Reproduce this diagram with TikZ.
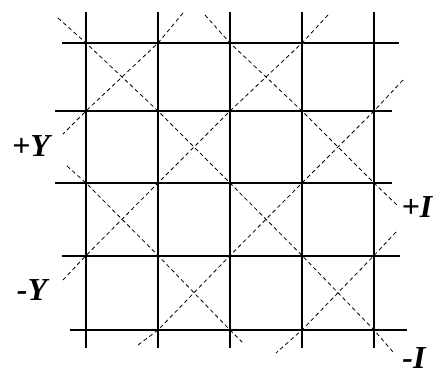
\documentclass[tikz,border=0pt]{standalone}
\usepackage{fontspec}
\setmainfont{Liberation Serif}
\begin{document}
\begin{tikzpicture}[x=1pt,y=-1pt,
  gridline/.style={line width=2pt,black},
  diag/.style={line width=0.8pt,black,dash pattern=on 4pt off 3pt},
  lbl/.style={font=\fontsize{32}{34}\selectfont\bfseries\itshape,inner sep=0pt}]
\useasboundingbox (0,0) rectangle (433,372);
% grid intersections
\foreach \i/\x in {0/86,1/158,2/230,3/302,4/374}{
  \foreach \j/\y in {0/43,1/111,2/183,3/255.5,4/330}{
    \coordinate (p-\i-\j) at (\x,\y);
  }
}
% vertical lines
\foreach \i/\x in {0/86,1/158,2/230,3/302,4/374}{
  \coordinate (vt-\i) at (\x,12);
  \coordinate (vb-\i) at (\x,348);
  \draw[gridline] (vt-\i) -- (vb-\i);
}
% horizontal lines
\foreach \j/\y/\l/\r in {0/43/62/399,1/111/55/392,2/183/55/392,3/255.5/62/400,4/330/70/407}{
  \coordinate (hl-\j) at (\l,\y);
  \coordinate (hr-\j) at (\r,\y);
  \draw[gridline] (hl-\j) -- (hr-\j);
}
% free ends of dashed lines
\coordinate (a0) at (58,18);   \coordinate (a1) at (393,352);
\coordinate (b0) at (205,15);  \coordinate (b1) at (398,206);
\coordinate (c0) at (67,166);  \coordinate (c1) at (242,342);
\coordinate (d0) at (183,13);  \coordinate (d1) at (63,134);
\coordinate (e0) at (328,15);  \coordinate (e1) at (63,280);
\coordinate (f0) at (403,80);  \coordinate (f1) at (138,345);
\coordinate (g0) at (396,232); \coordinate (g1) at (276,353);
% dashed diagonals
\draw[diag] (a0) -- (p-0-0) -- (p-1-1) -- (p-2-2) -- (p-3-3) -- (p-4-4) -- (a1);
\draw[diag] (b0) -- (p-2-0) -- (p-3-1) -- (p-4-2) -- (b1);
\draw[diag] (c0) -- (p-0-2) -- (p-1-3) -- (p-2-4) -- (c1);
\draw[diag] (d0) -- (p-1-0) -- (p-0-1) -- (d1);
\draw[diag] (e0) -- (p-3-0) -- (p-2-1) -- (p-1-2) -- (p-0-3) -- (e1);
\draw[diag] (f0) -- (p-4-1) -- (p-3-2) -- (p-2-3) -- (p-1-4) -- (f1);
\draw[diag] (g0) -- (p-4-3) -- (p-3-4) -- (g1);
% labels
\node[lbl] (py) at (31,146) {+Y};
\node[lbl] (my) at (32,290) {-Y};
\node[lbl] (pi) at (417,207) {+I};
\node[lbl] (mi) at (414,358) {-I};
\end{tikzpicture}
\end{document}
